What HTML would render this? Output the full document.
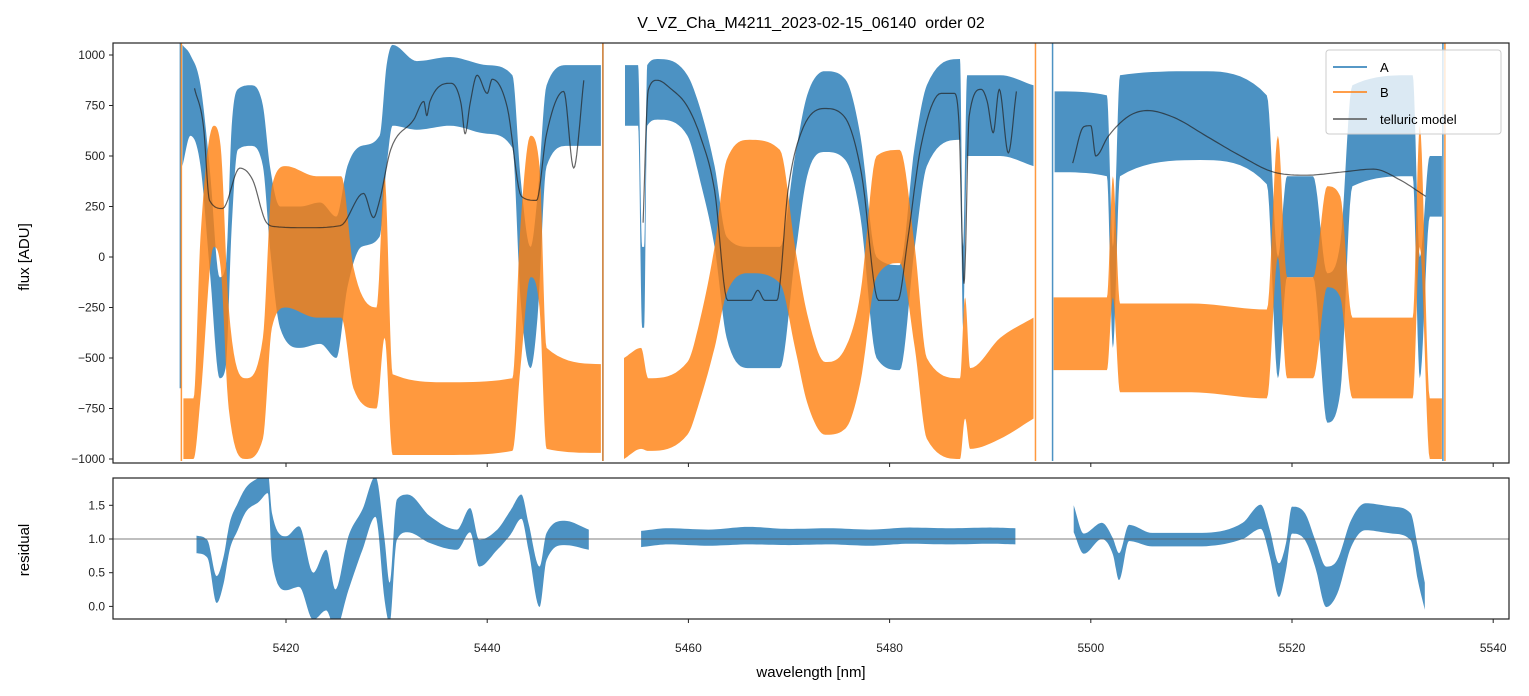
<!DOCTYPE html>
<html><head><meta charset="utf-8"><style>
html,body{margin:0;padding:0;background:#fff;}
svg{display:block;font-family:"Liberation Sans","DejaVu Sans",sans-serif;}
</style></head><body>
<svg id="chart" width="1529" height="696" viewBox="0 0 1529 696" xmlns="http://www.w3.org/2000/svg">
<defs>
<clipPath id="clipTop"><rect x="113" y="43" width="1396" height="420"/></clipPath>
<clipPath id="clipBot"><rect x="113" y="478" width="1396" height="141"/></clipPath>
</defs>
<rect width="1529" height="696" fill="#fff"/>
<text x="811" y="28" text-anchor="middle" font-size="16" xml:space="preserve">V_VZ_Cha_M4211_2023-02-15_06140&#160; order 02</text>
<g id="topPlot" clip-path="url(#clipTop)"></g>
<g id="botPlot" clip-path="url(#clipBot)"></g>
<rect x="113" y="43" width="1396" height="420" fill="none" stroke="#222" stroke-width="1.2"/>
<rect x="113" y="478" width="1396" height="141" fill="none" stroke="#222" stroke-width="1.2"/>
<g id="axes" font-size="12" fill="#222"></g>
<text transform="translate(29,257) rotate(-90)" text-anchor="middle" font-size="15">flux [ADU]</text>
<text transform="translate(29,550) rotate(-90)" text-anchor="middle" font-size="15">residual</text>
<text x="811" y="677" text-anchor="middle" font-size="15">wavelength [nm]</text>
<g>
<rect x="1326" y="50" width="175" height="84" rx="3" fill="#fff" fill-opacity="0.8" stroke="#ccc"/>
<line x1="1333" y1="67" x2="1367" y2="67" stroke="#1f77b4" stroke-width="1.5"/>
<text x="1380" y="72" font-size="13">A</text>
<line x1="1333" y1="92" x2="1367" y2="92" stroke="#ff7f0e" stroke-width="1.5"/>
<text x="1380" y="97" font-size="13">B</text>
<line x1="1333" y1="119" x2="1367" y2="119" stroke="#555" stroke-width="1.5"/>
<text x="1380" y="124" font-size="13">telluric model</text>
</g>
</svg>
<script>
const xTicks = [5420,5440,5460,5480,5500,5520,5540];
const yTicksTop = [1000,750,500,250,0,-250,-500,-750,-1000];
const yTickLabelsTop = ["1000","750","500","250","0","\u2212250","\u2212500","\u2212750","\u22121000"];
const yTicksBot = [1.5,1.0,0.5,0.0];
const yTickLabelsBot = ["1.5","1.0","0.5","0.0"];

const wlA = [5409.7,5410.5,5411.5,5412.4,5413.4,5414.0,5414.6,5415.2,5416.5,5417.7,5418.4,5419.4,5421.4,5423.4,5425.0,5426.1,5427.5,5429.3,5430.0,5430.6,5433,5436.3,5440,5442.5,5443.3,5444.3,5445.0,5445.9,5448,5451.3,null,
5453.7,5455.0,5455.4,5455.6,5455.9,5457,5459.9,5461.2,5462.6,5463.8,5466.1,5469.1,5470.6,5471.8,5473.6,5475.6,5477.1,5478.7,5481.0,5482.5,5483.7,5487.0,5487.3,5487.7,5491,5494.3,null,
5496.4,5501.6,5502.2,5502.9,5510.9,5517.5,5518.6,5519.5,5522.1,5523.5,5524.8,5526,5532.0,5532.7,5533.7,5534.9];
const aMid = [750,800,650,200,-350,-300,400,680,700,600,250,-50,-100,-80,-150,150,300,350,700,850,800,820,780,720,100,-250,0,650,750,750,null,
800,800,-150,-150,800,830,750,550,250,-150,-250,-250,250,600,720,680,400,-250,-300,300,650,780,-150,700,700,650,null,
620,600,-200,650,700,580,-300,150,150,-450,-300,600,650,-300,350,350];
const aHw = [300,200,200,250,250,250,250,150,150,150,200,300,350,350,350,300,250,250,250,200,170,170,170,180,300,300,300,200,200,200,null,
150,150,200,200,150,150,150,180,200,250,300,300,250,200,200,200,200,250,260,250,200,200,200,200,200,200,null,
200,200,250,250,220,220,300,250,250,370,370,250,250,300,150,150];
const spikeAWl = [5409.5,5451.5,5496.2,5535.0];
const spikeALo = [-650,-1010,-1010,-1010];
const spikeAHi = [1060,1060,1060,1060];

const wlB = [5409.8,5410.8,5411.5,5412.8,5413.5,5414.3,5416.0,5417.7,5418.6,5420,5423,5425.5,5426.7,5429.0,5429.8,5430.6,5436,5442.5,5443.3,5444.3,5445.2,5445.9,5451.3,null,
5453.6,5455.3,5456,5459.9,5461.2,5462.6,5463.8,5466.1,5469.1,5470.6,5471.8,5473.6,5475.6,5477.1,5478.7,5481.0,5482.5,5483.7,5487.0,5487.5,5488,5491,5494.3,null,
5496.3,5501.6,5502.2,5502.9,5510,5517.5,5518.6,5519.5,5522.1,5523.5,5524.8,5526,5532.0,5532.7,5533.7,5534.9];
const bMid = [-850,-850,-300,350,250,-500,-800,-650,0,100,50,50,-350,-500,0,-780,-800,-780,-200,250,100,-700,-750,null,
-750,-700,-780,-700,-500,-200,150,250,200,-200,-500,-700,-650,-400,200,250,-200,-700,-800,-500,-750,-650,-550,null,
-380,-380,100,-450,-450,-480,300,-350,-350,100,50,-500,-500,350,-850,-850];
const bHw = [150,150,400,300,300,250,200,250,350,350,350,350,300,250,400,200,180,180,350,350,350,250,220,null,
250,250,180,180,200,250,330,330,330,250,220,180,200,220,300,280,250,200,200,300,200,250,250,null,
180,180,300,220,220,220,300,250,250,250,250,200,200,300,150,150];
const spikeBWl = [5409.6,5451.5,5494.5,5535.2];
const spikeBLo = [-1010,-1010,-1010,-1010];
const spikeBHi = [1060,1060,1060,1060];

const wlT = [5410.9,5411.8,5412.4,5413.7,5415.4,5416.7,5418,5419,5422,5425.4,5427.7,5428.7,5429.3,5430.4,5432.7,5433.7,5434,5434.3,5436.4,5437.4,5437.8,5438.3,5439,5440,5440.5,5442,5443.4,5444.9,5445.9,5447.6,5448.6,5449.6,null,
5455.5,5456,5456.9,5458.2,5459.9,5461.2,5462.6,5463.9,5466.2,5466.9,5467.6,5468.8,5469.9,5471.2,5473.5,5475.5,5477.2,5478.9,5480.8,5481.8,5483.1,5485.1,5486.4,5486.9,5487.4,5487.9,5489.1,5489.7,5490.3,5490.9,5491.8,5492.6,null,
5498.2,5499.3,5500,5500.5,5501.7,5503.7,5505.6,5508.3,5511.6,5514.9,5518.2,5521.5,5524.8,5528.1,5530.8,5533.3];
const tVal = [835,645,280,240,440,380,175,150,145,155,315,195,280,530,680,770,700,770,860,760,610,760,900,810,880,740,300,280,610,820,440,875,null,
170,825,875,835,745,595,330,-215,-215,-165,-215,-215,330,615,735,695,415,-215,-215,85,545,810,810,660,-130,695,830,770,615,830,515,820,null,
465,645,650,500,595,695,725,690,595,500,420,405,420,435,380,300];

const wlR = [5411.1,5412.2,5413.1,5413.8,5414.4,5415.2,5416.0,5417.3,5418.2,5418.6,5420.0,5421.3,5422.7,5424.0,5424.9,5426.2,5427.6,5428.9,5429.8,5430.3,5431.0,5432.1,5434.3,5437.0,5438.3,5439.2,5441.0,5442.3,5443.4,5444.1,5445.2,5445.9,5447.7,5450.1,null,
5455.3,5458,5462,5466,5470,5474,5478,5482,5486,5490,5492.5,null,
5498.3,5499.3,5501.1,5502.2,5502.8,5503.8,5506.1,5510.6,5515.1,5516.9,5517.8,5518.7,5519.4,5520.0,5521.3,5522.3,5523.4,5524.5,5525.9,5527.3,5530.0,5531.8,5532.5,5533.2];
const rMid = [0.92,0.85,0.25,0.54,1.04,1.33,1.58,1.73,1.83,1.04,0.64,0.74,0.15,0.39,-0.05,0.64,1.14,1.63,0.54,0.05,1.28,1.38,1.14,0.99,1.28,0.79,0.99,1.24,1.48,1.04,0.29,0.89,1.09,0.99,null,
1.0,1.04,1.02,1.05,1.03,1.04,1.02,1.05,1.04,1.05,1.04,null,
1.3,0.93,1.12,0.89,0.59,1.09,0.99,0.99,1.12,1.33,0.93,0.39,0.74,1.28,1.18,0.79,0.29,0.44,1.09,1.33,1.28,1.18,0.64,0.15];
const rHw = [0.13,0.13,0.2,0.2,0.2,0.2,0.18,0.18,0.15,0.35,0.4,0.45,0.35,0.45,0.3,0.4,0.3,0.3,0.45,0.3,0.3,0.28,0.2,0.15,0.18,0.2,0.15,0.18,0.18,0.2,0.3,0.2,0.18,0.15,null,
0.12,0.12,0.12,0.13,0.12,0.12,0.12,0.12,0.12,0.12,0.12,null,
0.2,0.15,0.12,0.12,0.2,0.12,0.1,0.1,0.12,0.18,0.2,0.25,0.2,0.2,0.2,0.2,0.3,0.25,0.2,0.2,0.2,0.2,0.25,0.2];

const NS = 'http://www.w3.org/2000/svg';
function xS(w){ return 286 + (w - 5420) * 10.06; }
function yTop(v){ return 257 - v * 0.202; }
function yBot(r){ return 539 - (r - 1) * 67.4; }

function segments(wl, mid, hw){
  const segs = []; let cur = [];
  for (let i = 0; i < wl.length; i++){
    if (wl[i] === null || mid[i] === null){ if (cur.length) segs.push(cur); cur = []; continue; }
    cur.push([wl[i], mid[i], hw ? hw[i] : 0]);
  }
  if (cur.length) segs.push(cur);
  return segs;
}
// monotone cubic interpolation (no overshoot), returns dense [x,y] list
function monotone(pts){
  const n = pts.length;
  if (n < 3) return pts.slice();
  const d = [], m = [];
  for (let i = 0; i < n - 1; i++) d.push((pts[i+1][1] - pts[i][1]) / (pts[i+1][0] - pts[i][0]));
  m.push(d[0]);
  for (let i = 1; i < n - 1; i++) m.push(d[i-1] * d[i] <= 0 ? 0 : (d[i-1] + d[i]) / 2);
  m.push(d[n-2]);
  for (let i = 0; i < n - 1; i++){
    if (d[i] === 0){ m[i] = 0; m[i+1] = 0; continue; }
    const a = m[i] / d[i], b = m[i+1] / d[i], s = a*a + b*b;
    if (s > 9){ const t = 3 / Math.sqrt(s); m[i] = t*a*d[i]; m[i+1] = t*b*d[i]; }
  }
  const out = [];
  for (let i = 0; i < n - 1; i++){
    const x0 = pts[i][0], x1 = pts[i+1][0], y0 = pts[i][1], y1 = pts[i+1][1], h = x1 - x0;
    const steps = 10;
    for (let k = 0; k < steps; k++){
      const t = k / steps, t2 = t*t, t3 = t2*t;
      const y = (2*t3 - 3*t2 + 1)*y0 + (t3 - 2*t2 + t)*h*m[i] + (-2*t3 + 3*t2)*y1 + (t3 - t2)*h*m[i+1];
      out.push([x0 + t*h, y]);
    }
  }
  out.push(pts[n-1]);
  return out;
}
function ptsStr(a){ return a.map(p => p[0].toFixed(1) + ',' + p[1].toFixed(1)).join(' '); }
function band(g, wl, mid, hw, ys, color, name){
  segments(wl, mid, hw).forEach(function(s){
    const up = monotone(s.map(p => [xS(p[0]), ys(p[1] + p[2])]));
    const dn = monotone(s.map(p => [xS(p[0]), ys(p[1] - p[2])])).reverse();
    const poly = document.createElementNS(NS, 'polygon');
    poly.setAttribute('points', ptsStr(up.concat(dn)));
    poly.setAttribute('fill', color);
    poly.setAttribute('fill-opacity', '0.8');
    
    
    g.appendChild(poly);
  });
}
function line(g, wl, vals, ys, color, width, opacity, name){
  segments(wl, vals, null).forEach(function(s){
    const pl = document.createElementNS(NS, 'polyline');
    pl.setAttribute('points', ptsStr(monotone(s.map(p => [xS(p[0]), ys(p[1])]))));
    pl.setAttribute('fill', 'none');
    pl.setAttribute('stroke', color);
    pl.setAttribute('stroke-width', width);
    pl.setAttribute('stroke-opacity', opacity);
    pl.setAttribute('stroke-linejoin', 'round');
    
    
    g.appendChild(pl);
  });
}
function spikes(g, wl, lo, hi, color, name){
  for (let i = 0; i < wl.length; i++){
    const l = document.createElementNS(NS, 'line');
    l.setAttribute('x1', xS(wl[i])); l.setAttribute('x2', xS(wl[i]));
    l.setAttribute('y1', yTop(lo[i])); l.setAttribute('y2', yTop(hi[i]));
    l.setAttribute('stroke', color); l.setAttribute('stroke-width', '1.5'); l.setAttribute('stroke-opacity', '0.8');
    
    
    g.appendChild(l);
  }
}
const topG = document.getElementById('topPlot');
band(topG, wlA, aMid, aHw, yTop, '#1f77b4', 'series-a');
spikes(topG, spikeAWl, spikeALo, spikeAHi, '#1f77b4', 'series-a-spike');
band(topG, wlB, bMid, bHw, yTop, '#ff7f0e', 'series-b');
spikes(topG, spikeBWl, spikeBLo, spikeBHi, '#ff7f0e', 'series-b-spike');
line(topG, wlT, tVal, yTop, '#222', 1.2, 0.7, 'telluric-model-line');
const botG = document.getElementById('botPlot');
band(botG, wlR, rMid, rHw, yBot, '#1f77b4', 'residual');
const refLine = document.createElementNS(NS, 'line');
refLine.setAttribute('x1', 113); refLine.setAttribute('x2', 1509);
refLine.setAttribute('y1', yBot(1)); refLine.setAttribute('y2', yBot(1));
refLine.setAttribute('stroke', '#555'); refLine.setAttribute('stroke-width', '0.8');


botG.appendChild(refLine);

const axG = document.getElementById('axes');
function tick(x1,y1,x2,y2){
  const t = document.createElementNS(NS, 'line');
  t.setAttribute('x1', x1); t.setAttribute('y1', y1); t.setAttribute('x2', x2); t.setAttribute('y2', y2);
  t.setAttribute('stroke', '#222'); t.setAttribute('stroke-width', '1');
  
  
  axG.appendChild(t);
}
function label(x, y, s, anchor, name){
  const t = document.createElementNS(NS, 'text');
  t.setAttribute('x', x); t.setAttribute('y', y); t.setAttribute('text-anchor', anchor);
  t.textContent = s;
  
  
  axG.appendChild(t);
}
xTicks.forEach(function(w){
  const x = xS(w);
  tick(x, 463, x, 467);
  tick(x, 619, x, 623);
  label(x, 652, String(w), 'middle', 'x-tick-label');
});
yTicksTop.forEach(function(v, i){
  const y = yTop(v);
  tick(109, y, 113, y);
  label(105, y + 4, yTickLabelsTop[i], 'end', 'y-tick-label-flux');
});
yTicksBot.forEach(function(v, i){
  const y = yBot(v);
  tick(109, y, 113, y);
  label(105, y + 4, yTickLabelsBot[i], 'end', 'y-tick-label-residual');
});
</script>
</body></html>
